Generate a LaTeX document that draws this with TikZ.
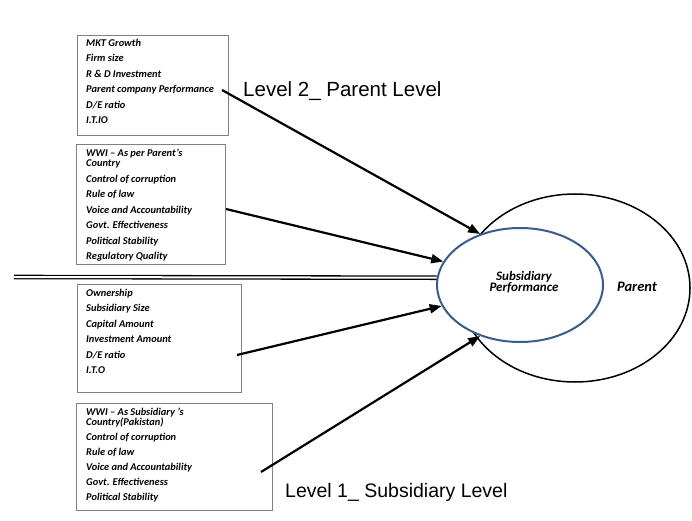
\documentclass[tikz,border=0pt]{standalone}
\usepackage{fontspec}
\setmainfont{Liberation Sans}
\newfontfamily\carl{Carlito}
\usetikzlibrary{arrows.meta,shapes.geometric,calc}
\definecolor{subblue}{RGB}{56,93,138}
\begin{document}
\begin{tikzpicture}[x=1pt,y=-1pt,
  box/.style={draw=black!50,line width=0.9pt,rectangle,inner sep=0pt,anchor=north west},
  items/.style={anchor=north west,inner sep=0pt,align=left,font=\carl\bfseries\itshape\fontsize{10.4}{10.2}\selectfont},
  arr/.style={line width=2.2pt,-{Triangle[length=12pt,width=9pt]}},
  lvl/.style={anchor=base west,inner sep=0pt},
  lbl/.style={font=\carl\bfseries\itshape,inner sep=0pt,align=center}]
\useasboundingbox (0,0) rectangle (692,521);
% boxes
\node[box,minimum width=151pt,minimum height=100pt] (b1) at (77,35) {};
\node[box,minimum width=149pt,minimum height=120pt] (b2) at (76,144) {};
\node[box,minimum width=164pt,minimum height=108pt] (b3) at (77,284) {};
\node[box,minimum width=196pt,minimum height=107pt] (b4) at (76,403) {};
\node[items] (t1) at (86,39) {MKT Growth\\[5.2pt]Firm size\\[5.2pt]R \& D Investment\\[5.2pt]Parent company Performance\\[5.2pt]D/E ratio\\[5.2pt]I.T.IO};
\node[items] (t2) at (86,149) {WWI – As per Parent’s\\Country\\[5.3pt]Control of corruption\\[5.3pt]Rule of law\\[5.3pt]Voice and Accountability\\[5.3pt]Govt. Effectiveness\\[5.3pt]Political Stability\\[5.3pt]Regulatory Quality};
\node[items] (t3) at (86,289) {Ownership\\[5.2pt]Subsidiary Size\\[5.2pt]Capital Amount\\[5.2pt]Investment Amount\\[5.2pt]D/E ratio\\[5.2pt]I.T.O};
\node[items] (t4) at (86,408) {WWI – As Subsidiary ’s\\Country(Pakistan)\\[4.8pt]Control of corruption\\[4.8pt]Rule of law\\[4.8pt]Voice and Accountability\\[4.8pt]Govt. Effectiveness\\[4.8pt]Political Stability};
% ellipses
\node[draw,ellipse,line width=1.5pt,minimum width=230pt,minimum height=188pt,inner sep=0pt] (par) at (575,288) {};
\node[draw=subblue,fill=white,ellipse,line width=2pt,minimum width=166pt,minimum height=114pt,inner sep=0pt] (sub) at (520,285) {};
\node[lbl,font=\carl\bfseries\itshape\fontsize{13}{11.5}\selectfont] (st) at (524,282) {Subsidiary\\Performance};
\node[lbl,font=\carl\bfseries\itshape\fontsize{14.5}{16}\selectfont] (pt) at (637,287) {Parent};
% level labels
\node[lvl,font=\fontsize{20.5}{22}\selectfont] (l2) at (243,97) {Level 2\_ Parent Level};
\node[lvl,font=\fontsize{19.5}{22}\selectfont] (l1) at (285,497) {Level 1\_ Subsidiary Level};
% connectors
\coordinate (s1) at (222,90);
\coordinate (s2) at (226,209);
\coordinate (s3) at (237,355);
\coordinate (s4) at (261,472);
\coordinate (s0) at (14,277);
\draw[arr] (s1) -- (sub.128);
\draw[arr] (s2) -- (sub.163);
\draw[arr] (s3) -- (sub.195);
\draw[arr] (s4) -- (sub.232);
\draw[double,double distance=2pt,line width=1.3pt] (s0) -- (sub.175);
\end{tikzpicture}
\end{document}
